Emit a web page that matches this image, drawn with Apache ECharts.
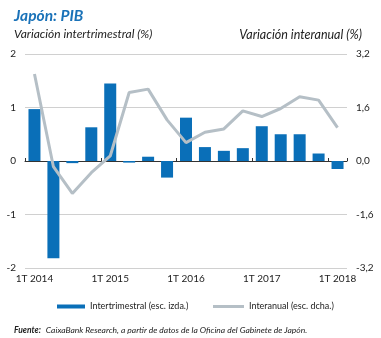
<!DOCTYPE html>
<html>
<head>
<meta charset="utf-8">
<script src="https://cdn.jsdelivr.net/npm/echarts@6/dist/echarts.min.js"></script>
<style>
html,body{margin:0;padding:0;background:#fff;}
#c{width:381px;height:338px;}
</style>
</head>
<body>
<div id="c"></div>
<script>
var categories = ['1T 2014','2T 2014','3T 2014','4T 2014','1T 2015','2T 2015','3T 2015','4T 2015','1T 2016','2T 2016','3T 2016','4T 2016','1T 2017','2T 2017','3T 2017','4T 2017','1T 2018'];
var intertrimestral = [0.97,-1.82,-0.04,0.63,1.45,-0.03,0.08,-0.31,0.81,0.26,0.19,0.24,0.65,0.50,0.50,0.14,-0.15];
var interanual = [2.60,-0.17,-0.97,-0.35,0.15,2.05,2.15,1.23,0.55,0.86,0.96,1.50,1.33,1.57,1.92,1.82,1.00];
var leftTicks = [-2,-1,0,1,2];
var rightTicks = [-3.2,-1.6,0,1.6,3.2];

var FONT = 'Lato';
var chart = echarts.init(document.getElementById('c'), null, {renderer:'canvas'});
chart.setOption({
  animation:false,
  backgroundColor:'#fff',
  title:[
    {text:'Japón: PIB', left:9, top:3, textStyle:{fontFamily:FONT, fontSize:15.5, fontWeight:'bold', fontStyle:'italic', color:'#1a72b8'}},
    {text:'Variación intertrimestral (%)', left:9, top:23, textStyle:{fontFamily:FONT, fontSize:12, fontWeight:'normal', fontStyle:'italic', color:'#222'}},
    {text:'Variación interanual (%)', right:14, top:23, textStyle:{fontFamily:FONT, fontSize:12.5, fontWeight:'normal', fontStyle:'italic', color:'#222'}},
    {text:'{b|Fuente:} {i|CaixaBank Research, a partir de datos de la Oficina del Gabinete de Japón.}', left:9, top:316,
      textStyle:{rich:{
        b:{fontFamily:FONT, fontSize:8.5, fontWeight:'bold', fontStyle:'italic', color:'#222'},
        i:{fontFamily:FONT, fontSize:8.5, fontWeight:'normal', fontStyle:'italic', color:'#222'}
      }}}
  ],
  legend:[
    {data:['Intertrimestral (esc. izda.)'], left:52, top:297, icon:'rect', itemWidth:28, itemHeight:4, itemGap:6,
     textStyle:{fontFamily:FONT, fontSize:9, color:'#222'}},
    {data:['Interanual (esc. dcha.)'], left:208, top:297, icon:'rect', itemWidth:31, itemHeight:3, itemGap:6,
     textStyle:{fontFamily:FONT, fontSize:9, color:'#222'}}
  ],
  grid:{left:25, right:34, top:54, bottom:70},
  xAxis:[
    {type:'category', data:categories, position:'bottom',
     axisLine:{show:false}, axisTick:{show:false},
     axisLabel:{interval:3, margin:6, fontFamily:FONT, fontSize:10, color:'#222'}},
    {type:'category', data:categories, position:'top',
     axisLine:{show:true, onZero:true, onZeroAxisIndex:0, lineStyle:{color:'#333', width:1}},
     axisTick:{show:true, interval:3, length:3, lineStyle:{color:'#333'}},
     axisLabel:{show:false}}
  ],
  yAxis:[
    {type:'value', min:leftTicks[0], max:leftTicks[leftTicks.length-1], interval:1, position:'left',
     axisLine:{show:false}, axisTick:{show:false},
     axisLabel:{margin:9, fontFamily:FONT, fontSize:10, color:'#222'},
     splitLine:{lineStyle:{color:'#d0d0d0', width:1}}},
    {type:'value', min:rightTicks[0], max:rightTicks[rightTicks.length-1], interval:1.6, position:'right',
     axisLine:{show:false}, axisTick:{show:false},
     axisLabel:{margin:9, fontFamily:FONT, fontSize:10, color:'#222',
       formatter:function(v){return v.toFixed(1).replace('.',',');}},
     splitLine:{show:false}}
  ],
  series:[
    {name:'Intertrimestral (esc. izda.)', type:'bar', data:intertrimestral, xAxisIndex:0, yAxisIndex:0,
     barWidth:12, itemStyle:{color:'#0a6fb8'}, z:2},
    {name:'Interanual (esc. dcha.)', type:'line', data:interanual, xAxisIndex:0, yAxisIndex:1,
     symbol:'none', lineStyle:{color:'#b5bfc6', width:3}, itemStyle:{color:'#b5bfc6'}, z:3}
  ]
});
</script>
</body>
</html>
